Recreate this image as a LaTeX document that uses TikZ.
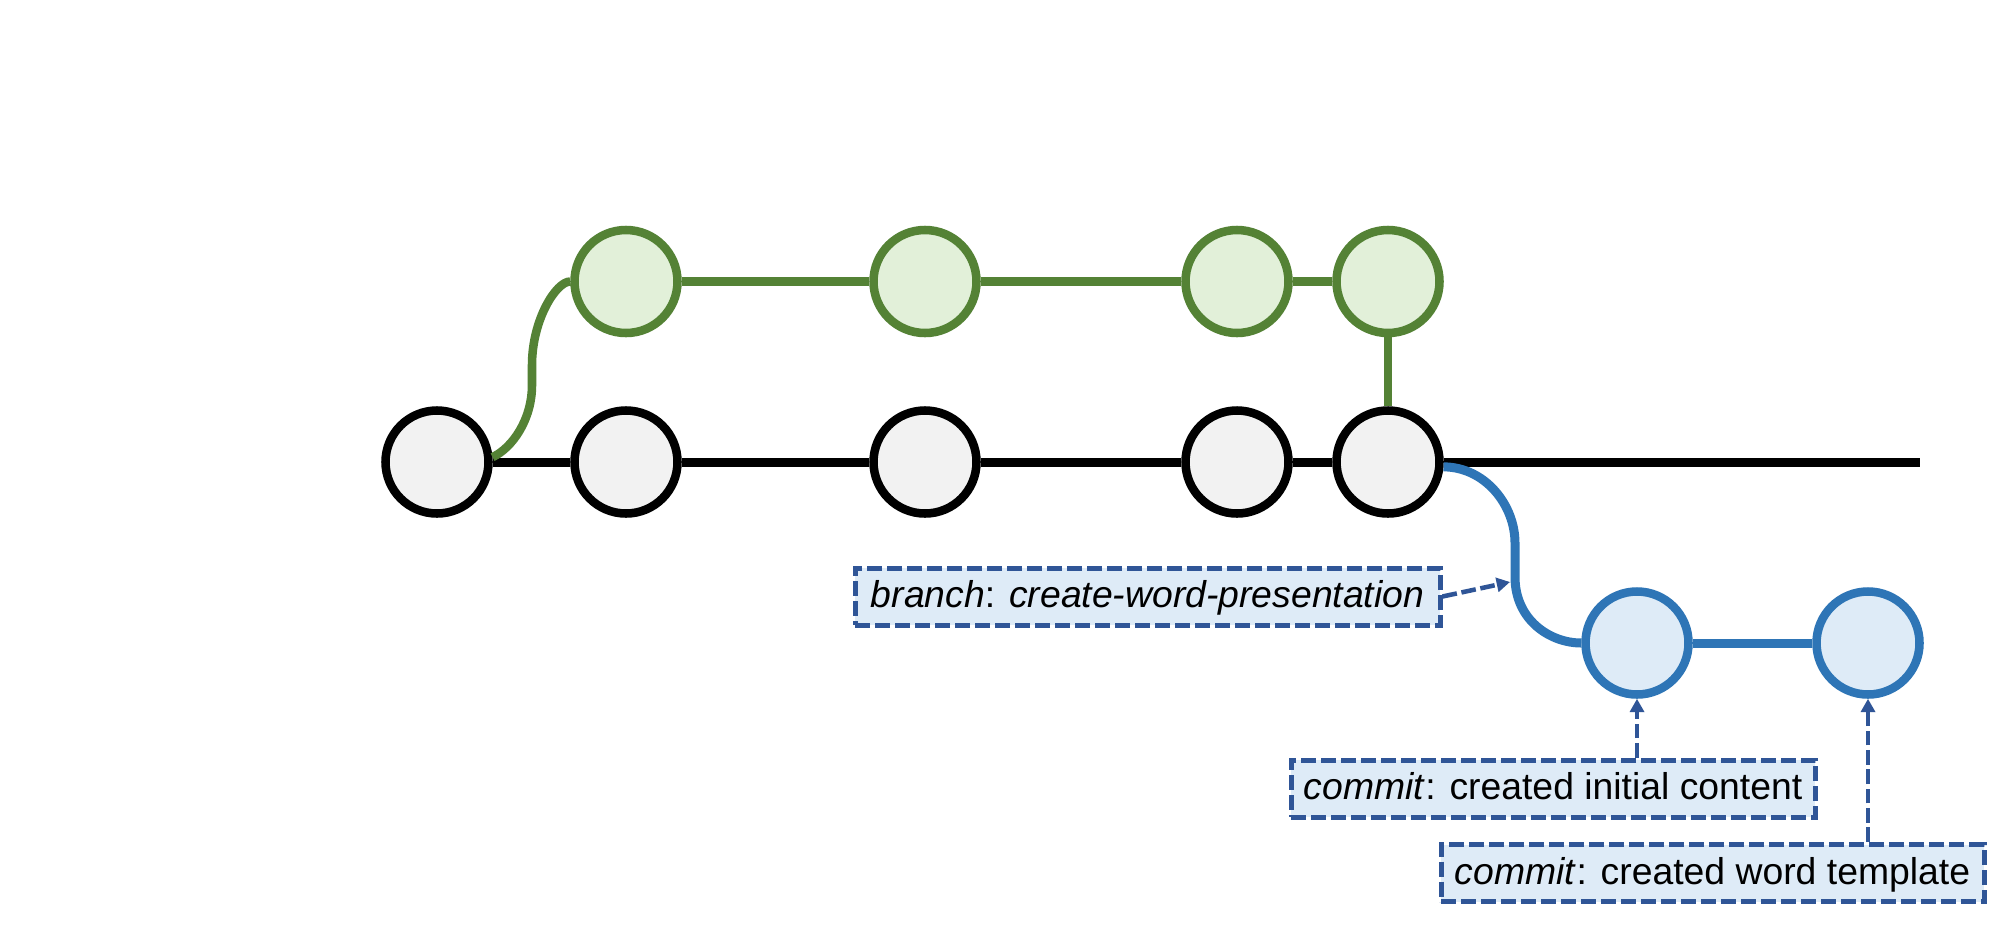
\documentclass[tikz,border=0pt]{standalone}
\usepackage{fontspec}
\setmainfont{Liberation Sans}
\usetikzlibrary{arrows.meta}
\definecolor{cgray}{HTML}{F2F2F2}
\definecolor{cgreen}{HTML}{548235}
\definecolor{cgreenf}{HTML}{E2F0D9}
\definecolor{cblue}{HTML}{2E75B6}
\definecolor{cbluef}{HTML}{DEEBF7}
\definecolor{cdash}{HTML}{2F5597}
\begin{document}
\begin{tikzpicture}[x=0.75pt,y=-0.75pt,
  commit/.style={circle,minimum size=77.25pt,inner sep=0pt,line width=6.4pt},
  mainc/.style={commit,draw=black,fill=cgray},
  featc/.style={commit,draw=cgreen,fill=cgreenf},
  wordc/.style={commit,draw=cblue,fill=cbluef},
  mainl/.style={line width=6.75pt,draw=black},
  featl/.style={line width=6.4pt,draw=cgreen},
  wordl/.style={line width=6.75pt,draw=cblue},
  labelbox/.style={draw=cdash,fill=cbluef,line width=3.75pt,dash pattern=on 11.25pt off 3.75pt,
    minimum height=42.75pt,inner sep=0pt,text height=22pt,text depth=4.8pt,
    font=\fontsize{28}{34}\selectfont},
  pointer/.style={draw=cdash,line width=3.4pt,dash pattern=on 11pt off 3.5pt,
    -{Triangle[width=10.5pt,length=10pt]}}
]
\useasboundingbox (0,0) rectangle (1994,925);
\fill[white] (0,0) rectangle (1994,925);

% main branch commits
\node[mainc] (b1) at (437,462) {};
\node[mainc] (b2) at (626,462) {};
\node[mainc] (b3) at (925,462) {};
\node[mainc] (b4) at (1237,462) {};
\node[mainc] (b5) at (1388,462) {};
\coordinate (mend) at (1920,462);

% feature branch commits
\node[featc] (g1) at (626,281.5) {};
\node[featc] (g2) at (925,281.5) {};
\node[featc] (g3) at (1237,281.5) {};
\node[featc] (g4) at (1388,281.5) {};

% word branch commits
\node[wordc] (bl1) at (1637,643) {};
\node[wordc] (bl2) at (1868,643) {};

% main line
\draw[mainl] (b1) -- (b2) (b2) -- (b3) (b3) -- (b4) (b4) -- (b5) (b5.east) -- (mend);

% feature line
\draw[featl] (b1.5) .. controls (512,448) and (532,420) .. (532,385) -- (532,365)
  .. controls (532,320) and (556,281.5) .. (g1.west);
\draw[featl] (g1) -- (g2) (g2) -- (g3) (g3) -- (g4) (g4) -- (b5);

% word line
\draw[wordl] (b5.-5) .. controls (1485,467) and (1515,505) .. (1515,543) -- (1515,577)
  .. controls (1515,620) and (1550,643) .. (bl1.west);
\draw[wordl] (bl1) -- (bl2);

% labels
\node[labelbox,minimum width=438.75pt] (lb) at (1147.5,596.5)
  {\textit{branch}: \textit{create-word-presentation}};
\node[labelbox,minimum width=393pt] (lc1) at (1553,788.5)
  {\textit{commit}: created initial content};
\node[labelbox,minimum width=407.25pt] (lc2) at (1712.5,873)
  {\textit{commit}: created word template};

% pointers
\coordinate (bt) at (1510,582);
\draw[pointer] (lb.east) -- (bt);
\draw[pointer] (lc1.north -| bl1.south) -- (bl1.south);
\draw[pointer] (lc2.north -| bl2.south) -- (bl2.south);
\end{tikzpicture}
\end{document}
